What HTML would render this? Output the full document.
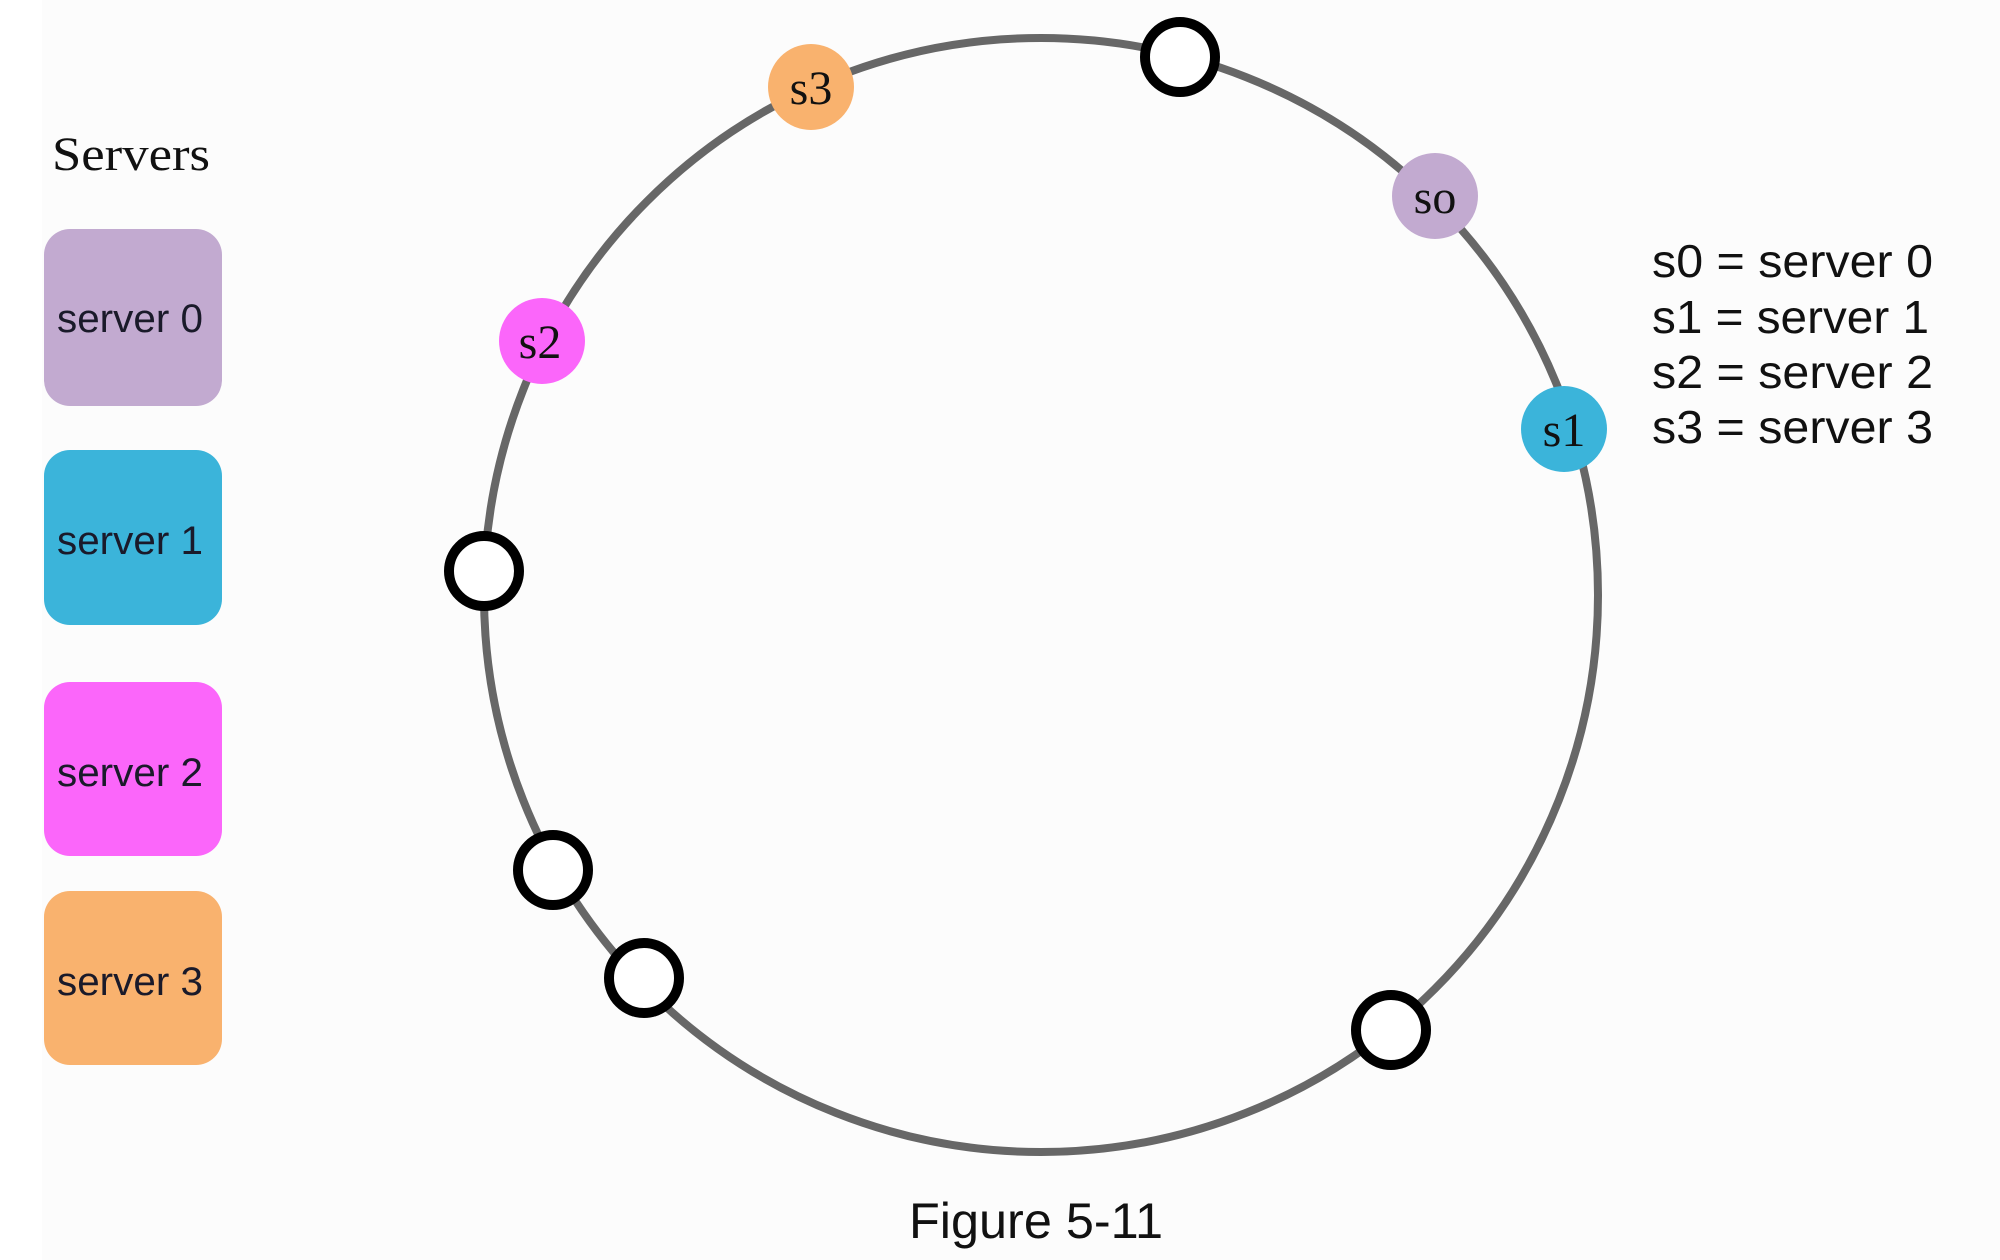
<!DOCTYPE html>
<html><head><meta charset="utf-8"><style>
html,body{margin:0;padding:0;background:#fdfdfd;}
svg{display:block;}
</style></head><body>
<svg width="2000" height="1260" viewBox="0 0 2000 1260" xmlns="http://www.w3.org/2000/svg">
<rect width="2000" height="1260" fill="#fcfcfc"/>
<rect width="42" height="1260" fill="#ffffff"/>
<circle cx="1041" cy="595" r="557" fill="none" stroke="#676767" stroke-width="8"/>
<text x="52" y="170" font-family="Liberation Serif, serif" font-size="48" fill="#111" textLength="158" lengthAdjust="spacingAndGlyphs">Servers</text>
<rect x="44" y="229" width="178" height="177" rx="26" fill="#c2aad0"/>
<rect x="44" y="450" width="178" height="175" rx="26" fill="#3bb4da"/>
<rect x="44" y="682" width="178" height="174" rx="26" fill="#fb66fa"/>
<rect x="44" y="891" width="178" height="174" rx="26" fill="#f9b26e"/>
<g font-family="Liberation Sans, sans-serif" font-size="40" fill="#1a1a2a">
<text x="57" y="332" textLength="146" lengthAdjust="spacingAndGlyphs">server 0</text>
<text x="57" y="554" textLength="146" lengthAdjust="spacingAndGlyphs">server 1</text>
<text x="57" y="786" textLength="146" lengthAdjust="spacingAndGlyphs">server 2</text>
<text x="57" y="995" textLength="146" lengthAdjust="spacingAndGlyphs">server 3</text>
</g>
<circle cx="811" cy="87" r="43" fill="#f9b26e"/>
<circle cx="1435" cy="196" r="43" fill="#c2aad0"/>
<circle cx="1564" cy="429" r="43" fill="#3bb4da"/>
<circle cx="542" cy="341" r="43" fill="#fb66fa"/>
<g font-family="Liberation Serif, serif" font-size="48" fill="#111" text-anchor="middle">
<text x="811" y="104">s3</text>
<text x="1435" y="213">so</text>
<text x="1564" y="446">s1</text>
<text x="540" y="358">s2</text>
</g>
<g fill="#ffffff" stroke="#000" stroke-width="10">
<circle cx="1180" cy="57" r="35"/>
<circle cx="484" cy="571" r="35"/>
<circle cx="553" cy="870" r="35"/>
<circle cx="644" cy="978" r="35"/>
<circle cx="1391" cy="1030" r="35"/>
</g>
<g font-family="Liberation Sans, sans-serif" font-size="46" fill="#111">
<text x="1652" y="277" textLength="281" lengthAdjust="spacingAndGlyphs">s0 = server 0</text>
<text x="1652" y="333" textLength="277" lengthAdjust="spacingAndGlyphs">s1 = server 1</text>
<text x="1652" y="388" textLength="281" lengthAdjust="spacingAndGlyphs">s2 = server 2</text>
<text x="1652" y="443" textLength="281" lengthAdjust="spacingAndGlyphs">s3 = server 3</text>
</g>
<text x="909" y="1238" font-family="Liberation Sans, sans-serif" font-size="50" fill="#111" textLength="254" lengthAdjust="spacingAndGlyphs">Figure 5-11</text>
</svg>
</body></html>
